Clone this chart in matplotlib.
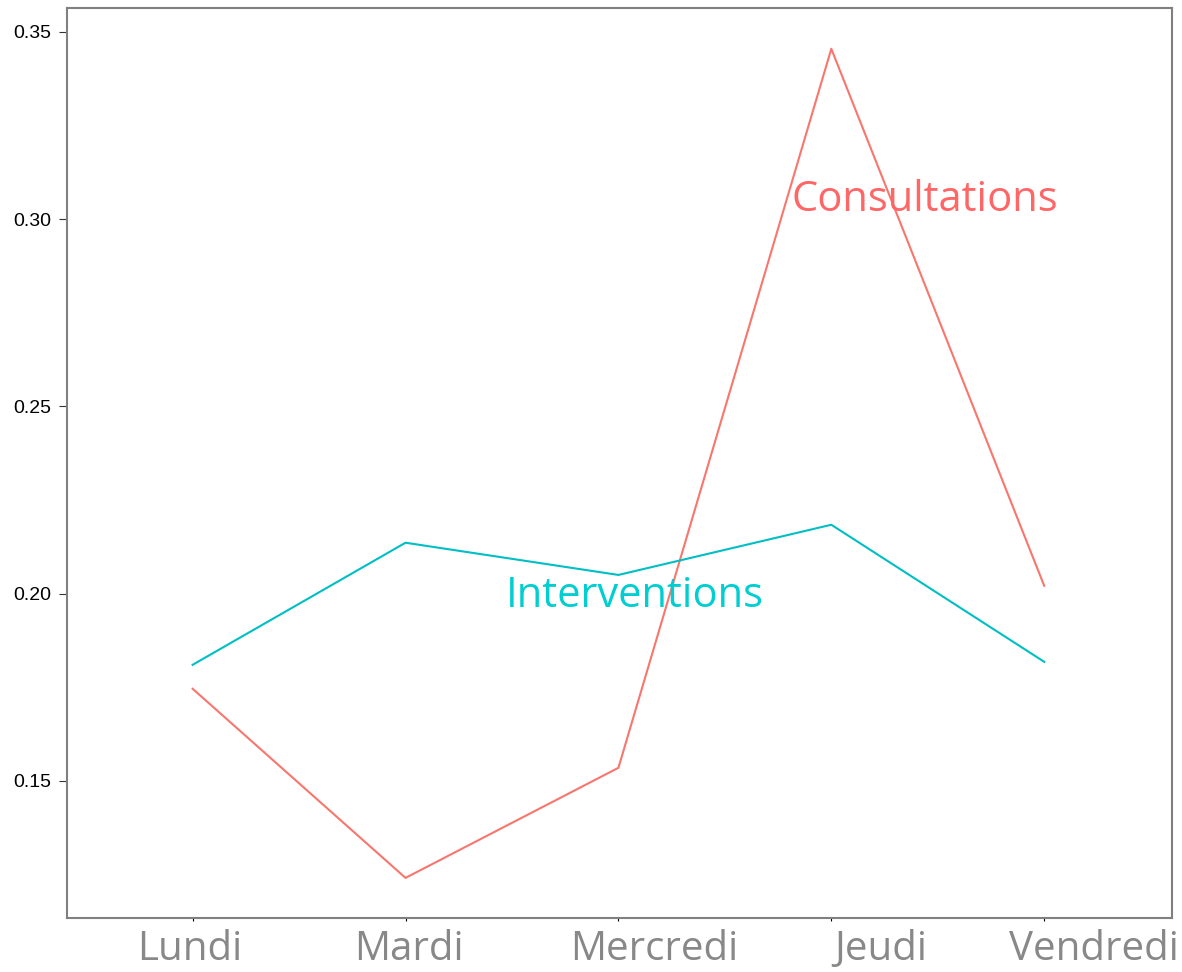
import matplotlib
matplotlib.use('Agg')
import matplotlib.pyplot as plt
from matplotlib.transforms import ScaledTranslation

days = ['Lundi', 'Mardi', 'Mercredi', 'Jeudi', 'Vendredi']
consultations = [0.1746, 0.1241, 0.1535, 0.3455, 0.2021]
interventions = [0.1810, 0.2136, 0.2050, 0.2184, 0.1818]

fig = plt.figure(figsize=(11.82, 9.72), dpi=100)
ax = fig.add_axes([0.0567, 0.0556, 0.9348, 0.9362])

x = list(range(1, len(days) + 1))
ax.plot(x, consultations, color='#F8766D', lw=1.5)
ax.plot(x, interventions, color='#00BFC4', lw=1.5)

ax.text(4.44, 0.3052, 'Consultations', color='#FF6666', fontsize=30,
        family='Open Sans', ha='center', va='center')
ax.text(3.075, 0.1994, 'Interventions', color='#00CED1', fontsize=30,
        family='Open Sans', ha='center', va='center')

ax.set_xlim(0.41, 5.6)
ax.set_ylim(0.1134, 0.3564)
ax.set_xticks(x)
ax.set_xticklabels(days, fontsize=29, color='#888888', family='Open Sans')
ax.set_yticks([0.15, 0.20, 0.25, 0.30, 0.35])
ax.set_yticklabels(['0.15', '0.20', '0.25', '0.30', '0.35'], fontsize=14,
                   color='black', family='Liberation Sans')
ax.tick_params(axis='x', length=2, pad=6)
ax.tick_params(axis='y', length=6, color='#333333', pad=5)

# labels in the original sit a bit right of their ticks, more so on the right
shifts = [-3, 3, 36, 49, 50]
for lab, dx in zip(ax.get_xticklabels(), shifts):
    lab.set_transform(lab.get_transform() + ScaledTranslation(dx / 100, 0, fig.dpi_scale_trans))

for s in ax.spines.values():
    s.set_color('#808080')
    s.set_linewidth(1.5)

fig.savefig('out.png', dpi=100)
